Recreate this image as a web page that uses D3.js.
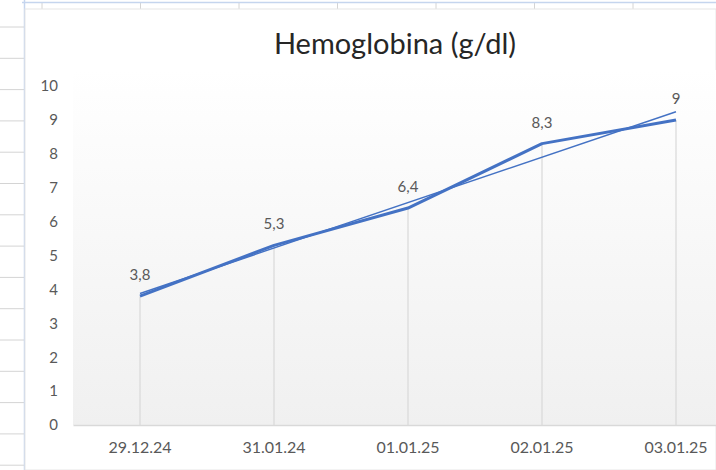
<!DOCTYPE html>
<html>
<head>
<meta charset="utf-8">
<script src="https://cdn.jsdelivr.net/npm/d3@7"></script>
<style>
  body { margin: 0; background: #fff; }
  svg { display: block; }
</style>
</head>
<body>
<svg id="chart" width="716" height="470"></svg>
<script>
// Chart data
const dates = ['29.12.24', '31.01.24', '01.01.25', '02.01.25', '03.01.25'];
const hemoglobin = [3.8, 5.3, 6.4, 8.3, 9];
const yTicks = [0, 1, 2, 3, 4, 5, 6, 7, 8, 9, 10];

const svg = d3.select('#chart');
const W = 716, H = 470;

// spreadsheet grid behind the chart
const rowLines = d3.range(27, H, 31.3);
svg.selectAll('.row').data(rowLines).enter().append('line')
    .attr('x1', 0).attr('x2', 24)
    .attr('y1', d => d).attr('y2', d => d)
    .attr('stroke', '#d4d4d4');
const colTicks = d3.range(42, W, 98.5);
svg.selectAll('.col').data(colTicks).enter().append('line')
    .attr('x1', d => d).attr('x2', d => d)
    .attr('y1', 3).attr('y2', 9)
    .attr('stroke', '#d4d4d4');
svg.append('line').attr('x1', 22).attr('x2', W).attr('y1', 2.5).attr('y2', 2.5)
    .attr('stroke', '#c5d5ee').attr('stroke-width', 1.5);
svg.append('line').attr('x1', 24.5).attr('x2', 24.5).attr('y1', 0).attr('y2', H)
    .attr('stroke', '#c5d5ee').attr('stroke-width', 1.5);

// chart area
svg.append('rect').attr('x', 25).attr('y', 9).attr('width', W - 25).attr('height', H - 9)
    .attr('fill', '#fff').attr('stroke', '#e6e6e6');

const margin = { left: 73, top: 86, bottom: 425 };
const x = d3.scaleBand().domain(dates).range([margin.left, margin.left + 134 * dates.length]);
const y = d3.scaleLinear().domain([0, 10]).range([margin.bottom, margin.top]);
const cx = d => x(d) + x.bandwidth() / 2;

// plot area gradient
const grad = svg.append('defs').append('linearGradient')
    .attr('id', 'bg').attr('x1', 0).attr('y1', 0).attr('x2', 0).attr('y2', 1);
grad.append('stop').attr('offset', '0%').attr('stop-color', '#ffffff');
grad.append('stop').attr('offset', '100%').attr('stop-color', '#f0f0f0');
svg.append('rect')
    .attr('x', margin.left).attr('y', 70)
    .attr('width', W - margin.left).attr('height', margin.bottom - 70)
    .attr('fill', 'url(#bg)');

// title
svg.append('text')
    .attr('x', 395).attr('y', 54)
    .attr('text-anchor', 'middle')
    .attr('font-family', 'Lato, sans-serif')
    .attr('font-size', 29)
    .attr('fill', '#262626')
    .text('Hemoglobina (g/dl)');

// y axis
const yAxis = svg.append('g')
    .attr('transform', `translate(${margin.left - 15},0)`)
    .call(d3.axisLeft(y).tickValues(yTicks).tickSize(0).tickPadding(0));
yAxis.select('.domain').remove();
yAxis.selectAll('text')
    .attr('font-family', 'Lato, sans-serif').attr('font-size', 15).attr('fill', '#595959');

// x axis
const xAxis = svg.append('g')
    .attr('transform', `translate(0,${margin.bottom})`)
    .call(d3.axisBottom(x).tickSize(0).tickPadding(17));
xAxis.select('.domain').attr('stroke', '#d9d9d9').attr('stroke-width', 1.5);
xAxis.selectAll('text')
    .attr('font-family', 'Lato, sans-serif').attr('font-size', 16).attr('fill', '#595959');

// drop lines
svg.selectAll('.drop').data(dates).enter().append('line')
    .attr('x1', d => cx(d)).attr('x2', d => cx(d))
    .attr('y1', (d, i) => y(hemoglobin[i])).attr('y2', margin.bottom)
    .attr('stroke', '#d9d9d9').attr('stroke-width', 1.2);

// linear trendline
const n = hemoglobin.length;
const xs = d3.range(1, n + 1);
const mx = d3.mean(xs), my = d3.mean(hemoglobin);
const slope = d3.sum(xs, (v, i) => (v - mx) * (hemoglobin[i] - my)) / d3.sum(xs, v => (v - mx) ** 2);
const icpt = my - slope * mx;
svg.append('line')
    .attr('x1', cx(dates[0])).attr('y1', y(icpt + slope * 1))
    .attr('x2', cx(dates[n - 1])).attr('y2', y(icpt + slope * n))
    .attr('stroke', '#4472c4').attr('stroke-width', 1.4);

// series line
const line = d3.line().x((d, i) => cx(dates[i])).y(d => y(d));
svg.append('path').datum(hemoglobin)
    .attr('d', line)
    .attr('fill', 'none')
    .attr('stroke', '#4472c4')
    .attr('stroke-width', 3)
    .attr('stroke-linejoin', 'round');

// data labels
svg.selectAll('.lbl').data(hemoglobin).enter().append('text')
    .attr('x', (d, i) => cx(dates[i]))
    .attr('y', d => y(d) - 16)
    .attr('text-anchor', 'middle')
    .attr('font-family', 'Lato, sans-serif')
    .attr('font-size', 15)
    .attr('fill', '#595959')
    .text(d => String(d).replace('.', ','));
</script>
</body>
</html>
